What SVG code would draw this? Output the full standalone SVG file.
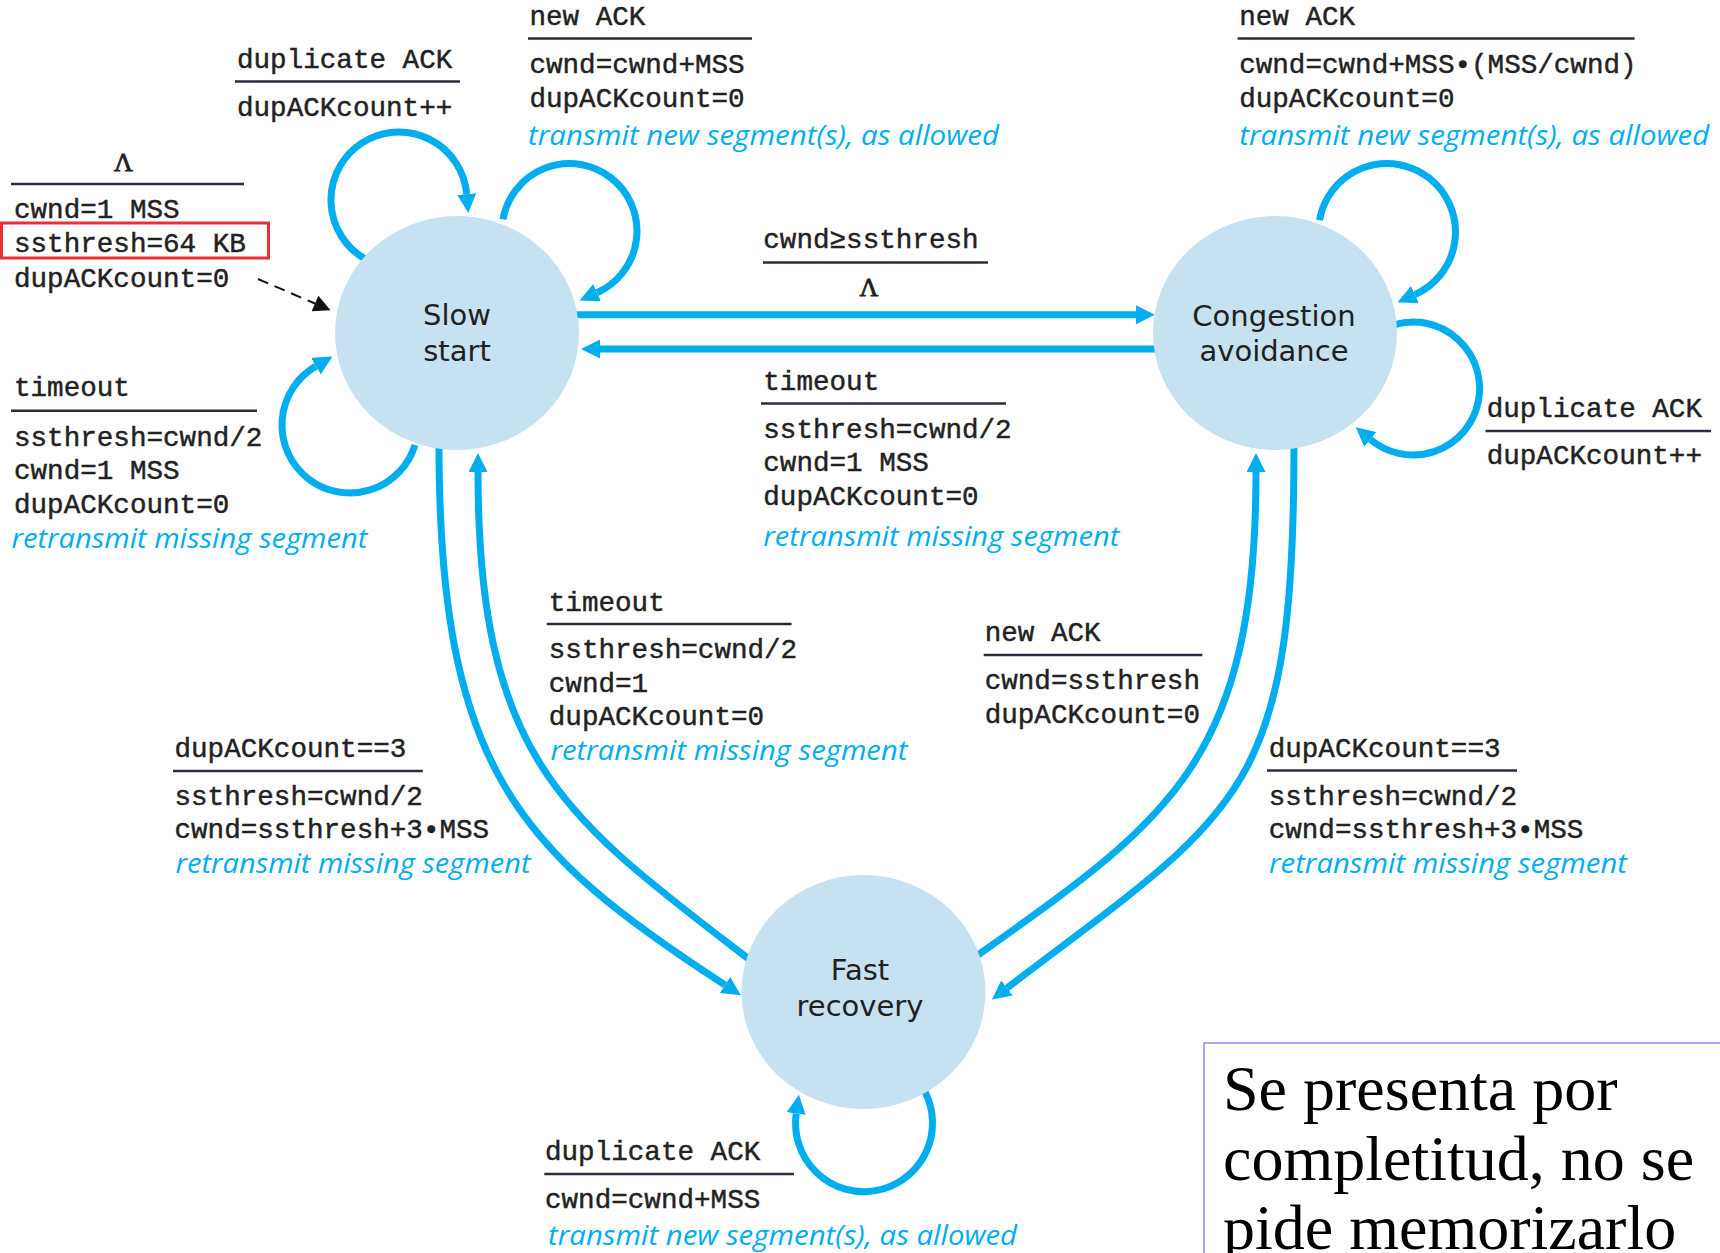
<svg xmlns="http://www.w3.org/2000/svg" width="1720" height="1253" viewBox="0 0 1720 1253">
<defs>
<marker id="ah" viewBox="0 0 10 10" refX="0" refY="5" markerWidth="19" markerHeight="19" markerUnits="userSpaceOnUse" orient="auto"><path d="M0,0 L10,5 L0,10 z" fill="#00aeef"/></marker>
<marker id="ahk" viewBox="0 0 10 10" refX="0" refY="5" markerWidth="19" markerHeight="17" markerUnits="userSpaceOnUse" orient="auto"><path d="M0,0 L10,5 L0,10 z" fill="#111"/></marker>
<style>
.m{font-family:"Liberation Mono","Courier New",monospace;font-size:27.6px;fill:#222;stroke:#222;stroke-width:0.45}
.b{font-family:"Open Sans","Noto Sans",sans-serif;font-style:italic;font-size:28px;fill:#00aeef}
.u{stroke:#2b2c3e;stroke-width:2.5}
.c{stroke:#00aeef;stroke-width:7;fill:none}
.n{fill:#c6e1ef}
.t{font-family:"DejaVu Sans","Open Sans",sans-serif;font-size:29px;fill:#231f20;text-anchor:middle}
.g{font-family:"Liberation Serif","Times New Roman",serif;font-size:26px;fill:#222;stroke:#222;stroke-width:0.8;text-anchor:middle}
.big{font-family:"Liberation Serif","Times New Roman",serif;font-size:64px;fill:#000}
</style>
</defs>
<rect width="1720" height="1253" fill="#fff"/>

<g id="connectors">
<path class="c" d="M365,258.9 A68,68 0 1 1 466.7,194.1" marker-end="url(#ah)"/>
<path class="c" d="M503,219.3 A67.5,67.5 0 1 1 597,292.7" marker-end="url(#ah)"/>
<path class="c" d="M415,444.9 A68,68 0 1 1 316,366.1" marker-end="url(#ah)"/>
<path class="c" d="M1319.5,220.1 A68.5,68.5 0 1 1 1414.9,294.6" marker-end="url(#ah)"/>
<path class="c" d="M1394.7,324.6 A66.5,66.5 0 1 1 1370.3,439.4" marker-end="url(#ah)"/>
<path class="c" d="M925,1091.9 A68.5,68.5 0 1 1 796.2,1113.5" marker-end="url(#ah)"/>
<path class="c" d="M560,314.8 H1136" marker-end="url(#ah)"/>
<path class="c" d="M1170,349 H600" marker-end="url(#ah)"/>
<path class="c" d="M439,445 C439,770 519.7,851.5 725,985" marker-end="url(#ah)"/>
<path class="c" d="M750,960 C567,819 478,762 478,472" marker-end="url(#ah)"/>
<path class="c" d="M978,955 C1166,821 1256,764 1256,472" marker-end="url(#ah)"/>
<path class="c" d="M1294,445 C1294,800 1240,810 1007,988" marker-end="url(#ah)"/>
<path d="M258,279 L315,303.5" stroke="#111" stroke-width="2" stroke-dasharray="11 7" fill="none" marker-end="url(#ahk)"/>
</g>

<g id="slow-start">
<ellipse class="n" cx="457" cy="333" rx="122" ry="117"/>
<text class="t"><tspan x="457" y="325">Slow</tspan><tspan x="457" y="361">start</tspan></text>
</g>
<g id="congestion-avoidance">
<ellipse class="n" cx="1275" cy="333" rx="122" ry="117"/>
<text class="t"><tspan x="1274" y="326">Congestion</tspan><tspan x="1274" y="361">avoidance</tspan></text>
</g>
<g id="fast-recovery">
<ellipse class="n" cx="863.5" cy="992" rx="122" ry="117"/>
<text class="t"><tspan x="860" y="980">Fast</tspan><tspan x="860" y="1016">recovery</tspan></text>
</g>

<g id="label-init">
<text class="g" x="123.5" y="171">Λ</text>
<line class="u" x1="11" y1="184" x2="244" y2="184"/>
<text class="m" x="14" y="218">cwnd=1 MSS</text>
<text class="m" x="14" y="252">ssthresh=64 KB</text>
<text class="m" x="14" y="287">dupACKcount=0</text>
<rect x="1.5" y="223" width="267" height="35" fill="none" stroke="#ed2e35" stroke-width="3"/>
</g>
<g id="label-ss-dup">
<text class="m" x="237" y="68">duplicate ACK</text>
<line class="u" x1="235" y1="81.4" x2="460" y2="81.4"/>
<text class="m" x="237" y="116">dupACKcount++</text>
</g>
<g id="label-ss-timeout">
<text class="m" x="14" y="396.4">timeout</text>
<line class="u" x1="11" y1="410.7" x2="257" y2="410.7"/>
<text class="m" x="14" y="445.7">ssthresh=cwnd/2</text>
<text class="m" x="14" y="479.3">cwnd=1 MSS</text>
<text class="m" x="14" y="512.5">dupACKcount=0</text>
<text class="b" x="11.4" y="548.2" textLength="356" lengthAdjust="spacingAndGlyphs">retransmit missing segment</text>
</g>
<g id="label-ss-new">
<text class="m" x="529.4" y="25">new ACK</text>
<line class="u" x1="528" y1="38.6" x2="752" y2="38.6"/>
<text class="m" x="529.4" y="73.2">cwnd=cwnd+MSS</text>
<text class="m" x="529.4" y="107.1">dupACKcount=0</text>
<text class="b" x="528" y="144.6" textLength="471" lengthAdjust="spacingAndGlyphs">transmit new segment(s), as allowed</text>
</g>
<g id="label-ss-ca">
<text class="m" x="763.3" y="248.2">cwnd≥ssthresh</text>
<line class="u" x1="763" y1="262.4" x2="988" y2="262.4"/>
<text class="g" x="869" y="296.3">Λ</text>
</g>
<g id="label-ca-ss">
<text class="m" x="763.3" y="389.9">timeout</text>
<line class="u" x1="761" y1="403.4" x2="1006" y2="403.4"/>
<text class="m" x="763.3" y="438.4">ssthresh=cwnd/2</text>
<text class="m" x="763.3" y="471.3">cwnd=1 MSS</text>
<text class="m" x="763.3" y="505.2">dupACKcount=0</text>
<text class="b" x="763.3" y="545.5" textLength="356" lengthAdjust="spacingAndGlyphs">retransmit missing segment</text>
</g>
<g id="label-ca-new">
<text class="m" x="1239.2" y="25">new ACK</text>
<line class="u" x1="1237.6" y1="38.6" x2="1634.6" y2="38.6"/>
<text class="m" x="1239.2" y="73.2">cwnd=cwnd+MSS•(MSS/cwnd)</text>
<text class="m" x="1239.2" y="107.1">dupACKcount=0</text>
<text class="b" x="1239.2" y="144.6" textLength="470" lengthAdjust="spacingAndGlyphs">transmit new segment(s), as allowed</text>
</g>
<g id="label-ca-dup">
<text class="m" x="1486.7" y="417">duplicate ACK</text>
<line class="u" x1="1485.5" y1="431" x2="1711" y2="431"/>
<text class="m" x="1486.7" y="464">dupACKcount++</text>
</g>
<g id="label-fr-ss">
<text class="m" x="548.8" y="610.7">timeout</text>
<line class="u" x1="546.8" y1="624" x2="791.6" y2="624"/>
<text class="m" x="548.8" y="658.3">ssthresh=cwnd/2</text>
<text class="m" x="548.8" y="691.7">cwnd=1</text>
<text class="m" x="548.8" y="725">dupACKcount=0</text>
<text class="b" x="550.4" y="760" textLength="357" lengthAdjust="spacingAndGlyphs">retransmit missing segment</text>
</g>
<g id="label-ss-fr">
<text class="m" x="174.5" y="756.5">dupACKcount==3</text>
<line class="u" x1="173" y1="771" x2="422.8" y2="771"/>
<text class="m" x="174.5" y="804.8">ssthresh=cwnd/2</text>
<text class="m" x="174.5" y="838.1">cwnd=ssthresh+3•MSS</text>
<text class="b" x="175.5" y="873" textLength="355" lengthAdjust="spacingAndGlyphs">retransmit missing segment</text>
</g>
<g id="label-fr-ca">
<text class="m" x="984.7" y="641">new ACK</text>
<line class="u" x1="983.7" y1="655" x2="1202.3" y2="655"/>
<text class="m" x="984.7" y="689.3">cwnd=ssthresh</text>
<text class="m" x="984.7" y="723.3">dupACKcount=0</text>
</g>
<g id="label-ca-fr">
<text class="m" x="1268.7" y="756.5">dupACKcount==3</text>
<line class="u" x1="1267" y1="770.5" x2="1517" y2="770.5"/>
<text class="m" x="1268.7" y="804.8">ssthresh=cwnd/2</text>
<text class="m" x="1268.7" y="838">cwnd=ssthresh+3•MSS</text>
<text class="b" x="1269" y="873" textLength="358" lengthAdjust="spacingAndGlyphs">retransmit missing segment</text>
</g>
<g id="label-fr-dup">
<text class="m" x="545" y="1159.8">duplicate ACK</text>
<line class="u" x1="544.3" y1="1174" x2="794" y2="1174"/>
<text class="m" x="545" y="1208">cwnd=cwnd+MSS</text>
<text class="b" x="548" y="1244.7" textLength="469" lengthAdjust="spacingAndGlyphs">transmit new segment(s), as allowed</text>
</g>

<g id="note">
<rect x="1204" y="1043" width="530" height="230" fill="#fff" stroke="#8c8ce6" stroke-width="1.5"/>
<text class="big" x="1223" y="1110">Se presenta por</text>
<text class="big" x="1223" y="1180">completitud, no se</text>
<text class="big" x="1223" y="1249">pide memorizarlo</text>
</g>
</svg>
